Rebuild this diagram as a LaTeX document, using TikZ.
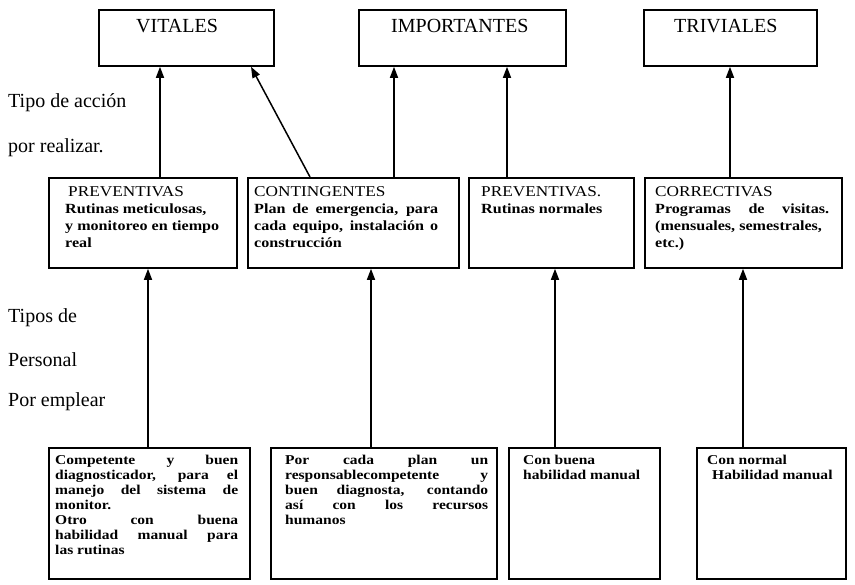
\documentclass[tikz,border=0pt]{standalone}
\usepackage{fontspec}
\setmainfont{Liberation Serif}
\newfontfamily\boxfont[FakeStretch=1.15]{Liberation Serif}
\usetikzlibrary{arrows.meta}
% a line whose interword spaces are stretched to a given width (pt)
\newcommand{\jl}[2]{\makebox[#1pt][s]{#2}}
\newcommand{\headfont}{\boxfont\mdseries\fontsize{15}{17}\selectfont}
\newcommand{\bodyfont}{\boxfont\bfseries\fontsize{14}{17}\selectfont}
\newcommand{\lowfont}{\boxfont\bfseries\fontsize{13.5}{15}\selectfont}

\begin{document}
\begin{tikzpicture}[x=1pt,y=-1pt,
  frame/.style={draw, line width=1.8pt, rectangle, anchor=north west, inner sep=0pt},
  txt/.style={anchor=base west, inner sep=0pt},
  arr/.style={line width=1.5pt, -{Triangle[width=8pt,length=11pt]}},
  toplabel/.style={txt, font=\fontsize{20}{24}\selectfont},
  sidelabel/.style={txt, font=\fontsize{20}{24}\selectfont}]

\useasboundingbox (0,0) rectangle (855,585);

% categories
\node[frame, minimum width=175pt, minimum height=56pt] (vit) at (98,9) {};
\node[toplabel] (vit-t) at (136,33) {VITALES};
\node[frame, minimum width=207pt, minimum height=56pt] (imp) at (358,9) {};
\node[toplabel] (imp-t) at (391,33) {IMPORTANTES};
\node[frame, minimum width=173pt, minimum height=56pt] (tri) at (643,9) {};
\node[toplabel] (tri-t) at (674,33) {TRIVIALES};

% row captions
\node[sidelabel] (l1) at (8,108) {Tipo de acción};
\node[sidelabel] (l2) at (8,153) {por realizar.};
\node[sidelabel] (l3) at (8,323) {Tipos de};
\node[sidelabel] (l4) at (8,367) {Personal};
\node[sidelabel] (l5) at (8,407) {Por emplear};

% actions
\node[frame, minimum width=188pt, minimum height=90pt] (m1) at (48,177) {};
\node[txt] (m1-t) at (65,197) {\parbox[t]{170pt}{\headfont\hspace*{3pt}PREVENTIVAS\\
  \bodyfont Rutinas meticulosas,\\ y monitoreo en tiempo\\ real}};
\node[frame, minimum width=211pt, minimum height=90pt] (m2) at (247,177) {};
\node[txt] (m2-t) at (254,197) {\parbox[t]{200pt}{\headfont CONTINGENTES\\
  \bodyfont\jl{184}{Plan de emergencia, para}\\ \jl{184}{cada equipo, instalación o}\\ construcción}};
\node[frame, minimum width=165pt, minimum height=90pt] (m3) at (468,177) {};
\node[txt] (m3-t) at (481,197) {\parbox[t]{150pt}{\headfont PREVENTIVAS.\\
  \bodyfont Rutinas normales}};
\node[frame, minimum width=197pt, minimum height=90pt] (m4) at (644,177) {};
\node[txt] (m4-t) at (655,197) {\parbox[t]{185pt}{\headfont CORRECTIVAS\\
  \bodyfont\jl{174}{Programas de visitas.}\\ (mensuales, semestrales,\\ etc.)}};

% staff
\node[frame, minimum width=201pt, minimum height=131pt] (b1) at (48,447) {};
\node[txt] (b1-t) at (55,465) {\parbox[t]{190pt}{\lowfont
  \jl{183}{Competente y buen}\\ \jl{183}{diagnosticador, para el}\\
  \jl{183}{manejo del sistema de}\\ monitor.\\ \jl{183}{Otro con buena}\\
  \jl{183}{habilidad manual para}\\ las rutinas}};
\node[frame, minimum width=226pt, minimum height=131pt] (b2) at (270,447) {};
\node[txt] (b2-t) at (285,465) {\parbox[t]{210pt}{\lowfont
  \jl{203}{Por cada plan un}\\ \jl{203}{responsablecompetente y}\\
  \jl{203}{buen diagnosta, contando}\\ \jl{203}{así con los recursos}\\ humanos}};
\node[frame, minimum width=151pt, minimum height=131pt] (b3) at (508,447) {};
\node[txt] (b3-t) at (523,465) {\parbox[t]{135pt}{\lowfont Con buena\\ habilidad manual}};
\node[frame, minimum width=149pt, minimum height=131pt] (b4) at (696,447) {};
\node[txt] (b4-t) at (707,465) {\parbox[t]{135pt}{\lowfont Con normal\\ \hspace*{5pt}Habilidad manual}};

% arrow feet on the box edges
\path (m1.north west) ++(112,0) coordinate (u1);
\path (m2.north west) ++(63,0) coordinate (u2);
\path (vit.south west) ++(153,0) coordinate (v2);
\path (m2.north west) ++(147,0) coordinate (u3);
\path (m3.north west) ++(39,0) coordinate (u4);
\path (m4.north west) ++(86,0) coordinate (u5);
\path (b1.north west) ++(100,0) coordinate (d1);
\path (b2.north west) ++(101,0) coordinate (d2);
\path (b3.north west) ++(47,0) coordinate (d3);
\path (b4.north west) ++(47,0) coordinate (d4);

\draw[arr] (u1) -- (u1 |- vit.south);
\draw[arr] (u2) -- (v2);
\draw[arr] (u3) -- (u3 |- imp.south);
\draw[arr] (u4) -- (u4 |- imp.south);
\draw[arr] (u5) -- (u5 |- tri.south);

\draw[arr] (d1) -- (d1 |- m1.south);
\draw[arr] (d2) -- (d2 |- m2.south);
\draw[arr] (d3) -- (d3 |- m3.south);
\draw[arr] (d4) -- (d4 |- m4.south);
\end{tikzpicture}
\end{document}
